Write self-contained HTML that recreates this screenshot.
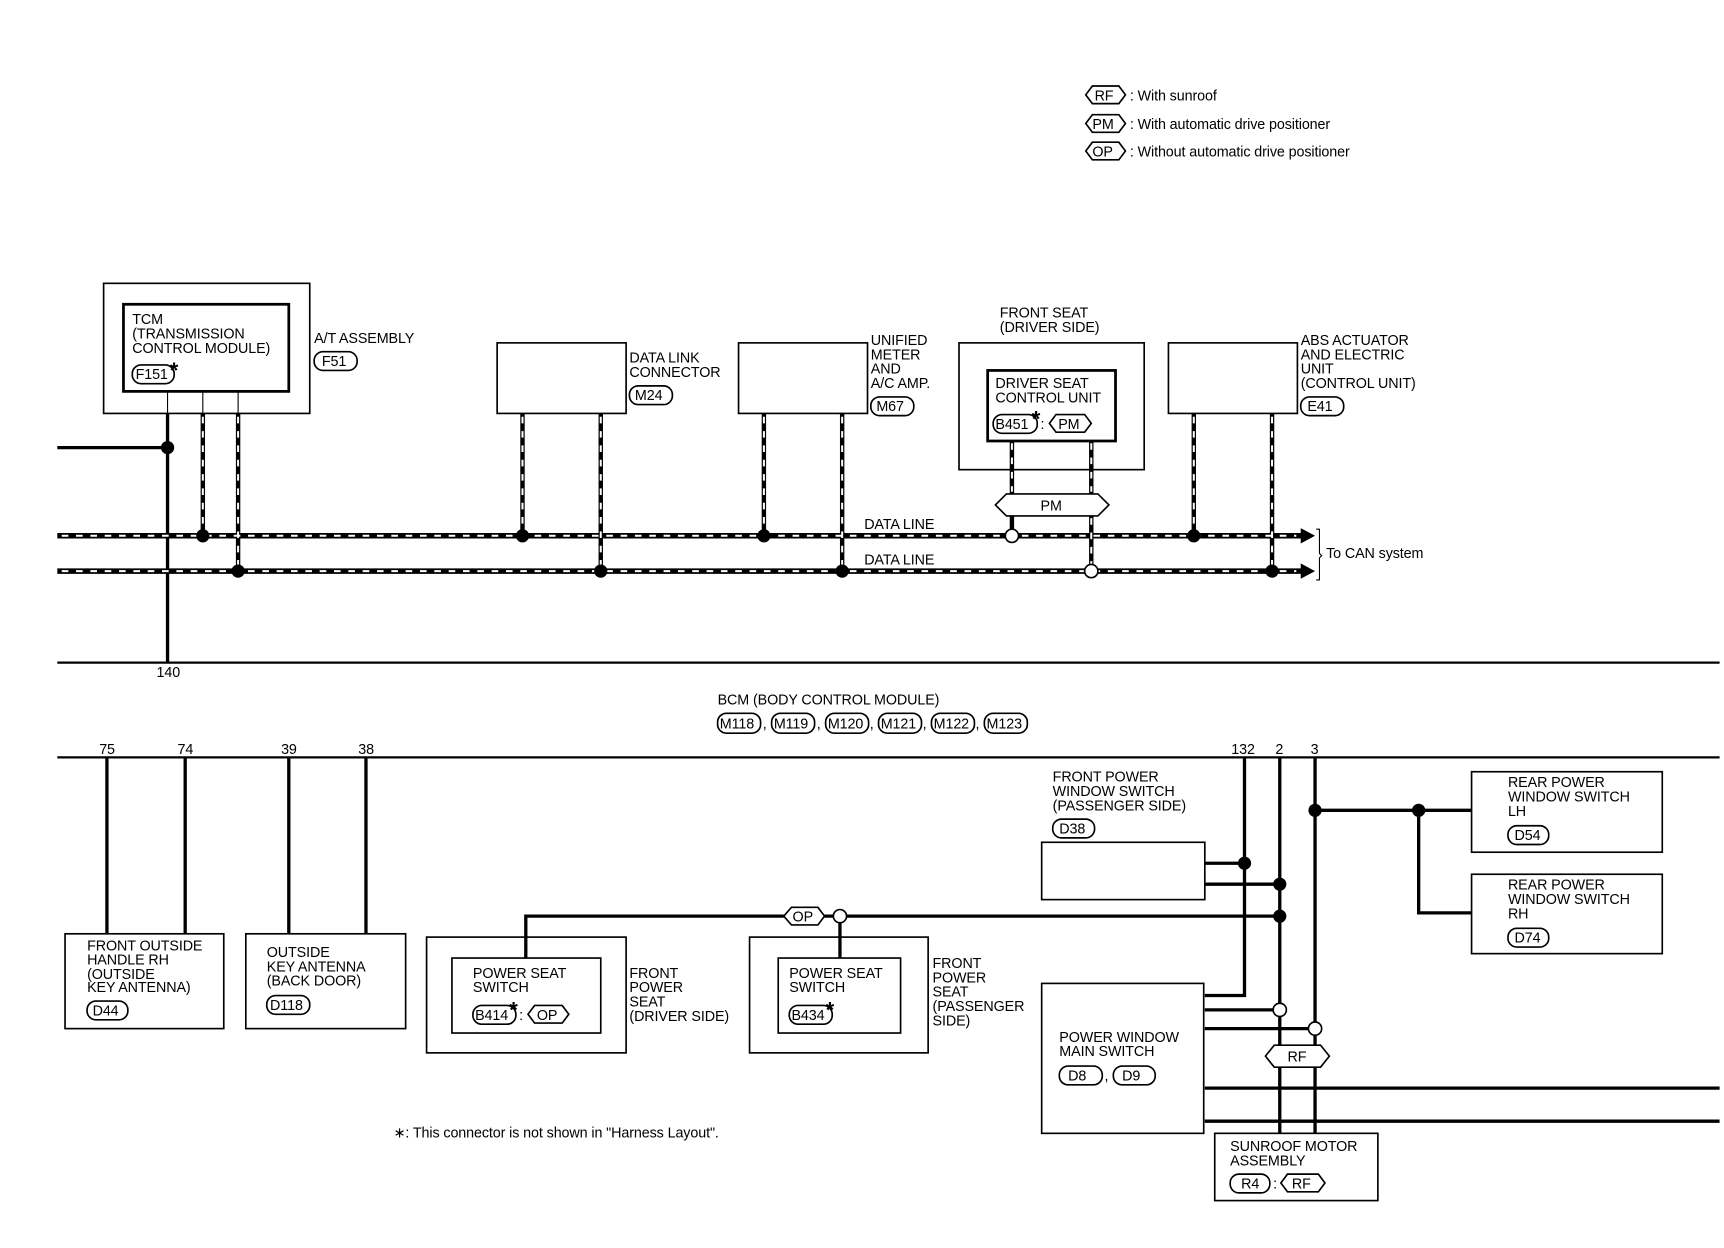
<!DOCTYPE html>
<html><head><meta charset="utf-8"><style>
html,body{margin:0;padding:0;background:#fff;}
svg{display:block;}
text{font-family:"Liberation Sans",sans-serif;font-size:13px;fill:#000;letter-spacing:-0.1px;}
text.ast{font-size:20px;font-weight:bold;}
</style></head><body>
<svg width="1724" height="1248" viewBox="0 0 1564 1132" preserveAspectRatio="none" xmlns="http://www.w3.org/2000/svg">
<g fill="none" stroke="#000" stroke-width="1.5">
<polygon points="985,86 991,78 1015,78 1021,86 1015,94 991,94"/>
<polygon points="985,112 991,104 1015,104 1021,112 1015,120 991,120"/>
<polygon points="985,137 991,129 1015,129 1021,137 1015,145 991,145"/>
</g>
<text x="993" y="91">RF</text><text x="1025" y="91">: With sunroof</text>
<text x="991" y="117">PM</text><text x="1025" y="117">: With automatic drive positioner</text>
<text x="991" y="142">OP</text><text x="1025" y="142">: Without automatic drive positioner</text>

<g fill="none" stroke="#000" stroke-width="1.5">
<rect x="94" y="257" width="187" height="118"/>
<rect x="112" y="276" width="150" height="79" stroke-width="2.5"/>
<rect x="451" y="311" width="117" height="64"/>
<rect x="670" y="311" width="117" height="64"/>
<rect x="870" y="311" width="168" height="115"/>
<rect x="896" y="336" width="116" height="64" stroke-width="2.5"/>
<rect x="1060" y="311" width="117" height="64"/>
<line x1="152" y1="355" x2="152" y2="375" stroke-width="1"/>
<line x1="184" y1="355" x2="184" y2="375" stroke-width="1"/>
<line x1="216" y1="355" x2="216" y2="375" stroke-width="1"/>
<rect x="120" y="331" width="38" height="17" rx="8"/>
<rect x="285" y="319" width="39" height="17" rx="8"/>
<rect x="571" y="350" width="39" height="17" rx="8"/>
<rect x="790" y="360" width="39" height="17" rx="8"/>
<rect x="901" y="376" width="40" height="17" rx="8"/>
<polygon points="952,384 958,376 984,376 990,384 984,392 958,392"/>
<rect x="1180" y="360" width="39" height="17" rx="8"/>
<polygon points="903,458 913,448 996,448 1006,458 996,468 913,468" fill="#fff"/>
</g>
<text x="120" y="294">TCM</text>
<text x="120" y="307">(TRANSMISSION</text>
<text x="120" y="320"> CONTROL MODULE)</text>
<text x="123" y="344">F151</text>
<text class="ast" x="154" y="343">*</text>
<text x="285" y="311">A/T ASSEMBLY</text><text x="292" y="332">F51</text>
<text x="571" y="329">DATA LINK</text><text x="571" y="342">CONNECTOR</text><text x="576" y="363">M24</text>
<text x="790" y="313">UNIFIED</text><text x="790" y="326">METER</text><text x="790" y="339">AND</text><text x="790" y="352">A/C AMP.</text><text x="795" y="373">M67</text>
<text x="907" y="288">FRONT SEAT</text><text x="907" y="301">(DRIVER SIDE)</text>
<text x="903" y="352">DRIVER SEAT</text><text x="903" y="365">CONTROL UNIT</text>
<text x="903" y="389">B451</text><text class="ast" x="936" y="387">*</text><text x="944" y="389">:</text><text x="960" y="389">PM</text>
<text x="1180" y="313">ABS ACTUATOR</text><text x="1180" y="326">AND ELECTRIC</text><text x="1180" y="339">UNIT</text><text x="1180" y="352">(CONTROL UNIT)</text><text x="1186" y="373">E41</text>
<text x="944" y="463">PM</text>

<g stroke="#000" stroke-width="3" fill="none">
<line x1="152" y1="375" x2="152" y2="601"/>
<line x1="52" y1="406" x2="152" y2="406"/>
</g>
<g stroke="#000" stroke-width="5" fill="none">
<line x1="52" y1="486" x2="1182" y2="486"/>
<line x1="52" y1="518" x2="1182" y2="518"/>
<line x1="184" y1="375" x2="184" y2="486" stroke-width="4"/>
<line x1="216" y1="375" x2="216" y2="518" stroke-width="4"/>
<line x1="474" y1="375" x2="474" y2="486" stroke-width="4"/>
<line x1="545" y1="375" x2="545" y2="518" stroke-width="4"/>
<line x1="693" y1="375" x2="693" y2="486" stroke-width="4"/>
<line x1="764" y1="375" x2="764" y2="518" stroke-width="4"/>
<line x1="918" y1="400" x2="918" y2="448" stroke-width="4"/>
<line x1="990" y1="400" x2="990" y2="448" stroke-width="4"/>
<line x1="918" y1="468" x2="918" y2="486" stroke-width="4"/>
<line x1="990" y1="468" x2="990" y2="518" stroke-width="4"/>
<line x1="1083" y1="375" x2="1083" y2="486" stroke-width="4"/>
<line x1="1154" y1="375" x2="1154" y2="518" stroke-width="4"/>
</g>
<g stroke="#fff" stroke-width="1.8" stroke-dasharray="6 7" fill="none">
<line x1="56" y1="486" x2="1176" y2="486"/>
<line x1="56" y1="518" x2="1176" y2="518"/>
<line x1="184" y1="378" x2="184" y2="482"/>
<line x1="216" y1="378" x2="216" y2="514"/>
<line x1="474" y1="378" x2="474" y2="482"/>
<line x1="545" y1="378" x2="545" y2="514"/>
<line x1="693" y1="378" x2="693" y2="482"/>
<line x1="764" y1="378" x2="764" y2="514"/>
<line x1="918" y1="402" x2="918" y2="446"/>
<line x1="990" y1="402" x2="990" y2="446"/>
<line x1="990" y1="470" x2="990" y2="514"/>
<line x1="1083" y1="378" x2="1083" y2="482"/>
<line x1="1154" y1="378" x2="1154" y2="514"/>
</g>
<polygon points="1180,479 1193,486 1180,493" fill="#000"/>
<polygon points="1180,511 1193,518 1180,525" fill="#000"/>
<path d="M1194,480 h3 v22 l2,2 l-2,2 v20 h-3" fill="none" stroke="#000" stroke-width="1"/>
<text x="1203" y="506">To CAN system</text>
<text x="784" y="480">DATA LINE</text>
<text x="784" y="512">DATA LINE</text>
<g fill="#000">
<circle cx="152" cy="406" r="6"/><circle cx="184" cy="486" r="6"/><circle cx="216" cy="518" r="6"/>
<circle cx="474" cy="486" r="6"/><circle cx="545" cy="518" r="6"/>
<circle cx="693" cy="486" r="6"/><circle cx="764" cy="518" r="6"/>
<circle cx="1083" cy="486" r="6"/><circle cx="1154" cy="518" r="6"/>
</g>
<g fill="#fff" stroke="#000" stroke-width="1.5">
<circle cx="918" cy="486" r="6"/><circle cx="990" cy="518" r="6"/>
</g>

<g stroke="#000" stroke-width="2" fill="none">
<line x1="52" y1="601" x2="1560" y2="601"/>
<line x1="52" y1="687" x2="1560" y2="687"/>
</g>
<text x="142" y="614">140</text>
<text x="651" y="639">BCM (BODY CONTROL MODULE)</text>
<g fill="none" stroke="#000" stroke-width="1.5">
<rect x="651" y="647" width="39" height="18" rx="8"/>
<rect x="700" y="647" width="39" height="18" rx="8"/>
<rect x="749" y="647" width="39" height="18" rx="8"/>
<rect x="797" y="647" width="39" height="18" rx="8"/>
<rect x="845" y="647" width="39" height="18" rx="8"/>
<rect x="893" y="647" width="39" height="18" rx="8"/>
</g>
<text x="653" y="661">M118</text><text x="692" y="661">,</text>
<text x="702" y="661">M119</text><text x="741" y="661">,</text>
<text x="751" y="661">M120</text><text x="789" y="661">,</text>
<text x="799" y="661">M121</text><text x="837" y="661">,</text>
<text x="847" y="661">M122</text><text x="885" y="661">,</text>
<text x="895" y="661">M123</text>
<text x="90" y="684">75</text><text x="161" y="684">74</text><text x="255" y="684">39</text><text x="325" y="684">38</text>
<text x="1117" y="684">132</text><text x="1157" y="684">2</text><text x="1189" y="684">3</text>

<g fill="none" stroke="#000" stroke-width="1.5">
<rect x="59" y="847" width="144" height="86"/>
<rect x="223" y="847" width="145" height="86"/>
<rect x="387" y="850" width="181" height="105"/>
<rect x="410" y="869" width="135" height="68"/>
<rect x="680" y="850" width="162" height="105"/>
<rect x="706" y="869" width="111" height="68"/>
<rect x="945" y="764" width="148" height="52"/>
<rect x="945" y="892" width="147" height="136"/>
<rect x="1335" y="700" width="173" height="73"/>
<rect x="1335" y="793" width="173" height="72"/>
<rect x="1102" y="1028" width="148" height="61"/>
<rect x="79" y="908" width="37" height="17" rx="8"/>
<rect x="242" y="903" width="39" height="17" rx="8"/>
<rect x="429" y="912" width="39" height="17" rx="8"/>
<polygon points="479,920 485,912 510,912 516,920 510,928 485,928"/>
<rect x="716" y="912" width="39" height="17" rx="8"/>
<rect x="955" y="743" width="38" height="17" rx="8"/>
<rect x="961" y="967" width="39" height="17" rx="8"/>
<rect x="1010" y="967" width="38" height="17" rx="8"/>
<rect x="1368" y="749" width="37" height="17" rx="8"/>
<rect x="1368" y="842" width="37" height="17" rx="8"/>
<rect x="1116" y="1065" width="36" height="17" rx="8"/>
<polygon points="1162,1073 1168,1065 1196,1065 1202,1073 1196,1081 1168,1081"/>
</g>
<g stroke="#000" stroke-width="3" fill="none">
<line x1="97" y1="687" x2="97" y2="847"/>
<line x1="168" y1="687" x2="168" y2="847"/>
<line x1="262" y1="687" x2="262" y2="847"/>
<line x1="332" y1="687" x2="332" y2="847"/>
<polyline points="477,869 477,831 711,831"/>
<line x1="748" y1="831" x2="1160" y2="831"/>
<line x1="762" y1="831" x2="762" y2="869"/>
<polyline points="1129,687 1129,903 1093,903"/>
<line x1="1161" y1="687" x2="1161" y2="948"/>
<line x1="1161" y1="968" x2="1161" y2="1028"/>
<line x1="1193" y1="687" x2="1193" y2="948"/>
<line x1="1193" y1="968" x2="1193" y2="1028"/>
<line x1="1093" y1="783" x2="1129" y2="783"/>
<line x1="1093" y1="802" x2="1161" y2="802"/>
<line x1="1093" y1="916" x2="1161" y2="916"/>
<line x1="1093" y1="933" x2="1193" y2="933"/>
<line x1="1093" y1="987" x2="1560" y2="987"/>
<line x1="1093" y1="1017" x2="1560" y2="1017"/>
<line x1="1193" y1="735" x2="1335" y2="735"/>
<polyline points="1287,735 1287,828 1335,828"/>
</g>
<g fill="#fff" stroke="#000" stroke-width="1.5">
<polygon points="711,831 718,823 742,823 748,831 742,839 718,839"/>
<polygon points="1148,958 1156,948 1198,948 1206,958 1198,968 1156,968"/>
<circle cx="762" cy="831" r="6"/>
<circle cx="1161" cy="916" r="6"/>
<circle cx="1193" cy="933" r="6"/>
</g>
<g fill="#000">
<circle cx="1129" cy="783" r="6"/><circle cx="1161" cy="802" r="6"/><circle cx="1161" cy="831" r="6"/>
<circle cx="1193" cy="735" r="6"/><circle cx="1287" cy="735" r="6"/>
</g>
<text x="719" y="836">OP</text>
<text x="1168" y="963">RF</text>

<text x="79" y="862">FRONT OUTSIDE</text><text x="79" y="875">HANDLE RH</text><text x="79" y="888">(OUTSIDE</text><text x="79" y="900"> KEY ANTENNA)</text><text x="84" y="921">D44</text>
<text x="242" y="868">OUTSIDE</text><text x="242" y="881">KEY ANTENNA</text><text x="242" y="894">(BACK DOOR)</text><text x="245" y="916">D118</text>
<text x="429" y="887">POWER SEAT</text><text x="429" y="900">SWITCH</text><text x="431" y="925">B414</text><text class="ast" x="462" y="923">*</text><text x="471" y="925">:</text><text x="487" y="925">OP</text>
<text x="571" y="887">FRONT</text><text x="571" y="900">POWER</text><text x="571" y="913">SEAT</text><text x="571" y="926">(DRIVER SIDE)</text>
<text x="716" y="887">POWER SEAT</text><text x="716" y="900">SWITCH</text><text x="718" y="925">B434</text><text class="ast" x="749" y="923">*</text>
<text x="846" y="878">FRONT</text><text x="846" y="891">POWER</text><text x="846" y="904">SEAT</text><text x="846" y="917">(PASSENGER</text><text x="846" y="930"> SIDE)</text>
<text x="955" y="709">FRONT POWER</text><text x="955" y="722">WINDOW SWITCH</text><text x="955" y="735">(PASSENGER SIDE)</text><text x="961" y="756">D38</text>
<text x="961" y="945">POWER WINDOW</text><text x="961" y="958">MAIN SWITCH</text><text x="969" y="980">D8</text><text x="1002" y="980">,</text><text x="1018" y="980">D9</text>
<text x="1368" y="714">REAR POWER</text><text x="1368" y="727">WINDOW SWITCH</text><text x="1368" y="740">LH</text><text x="1374" y="762">D54</text>
<text x="1368" y="807">REAR POWER</text><text x="1368" y="820">WINDOW SWITCH</text><text x="1368" y="833">RH</text><text x="1374" y="855">D74</text>
<text x="1116" y="1044">SUNROOF MOTOR</text><text x="1116" y="1057">ASSEMBLY</text><text x="1126" y="1078">R4</text><text x="1155" y="1078">:</text><text x="1172" y="1078">RF</text>
<text x="357" y="1032">∗: This connector is not shown in "Harness Layout".</text>
</svg>
</body></html>
